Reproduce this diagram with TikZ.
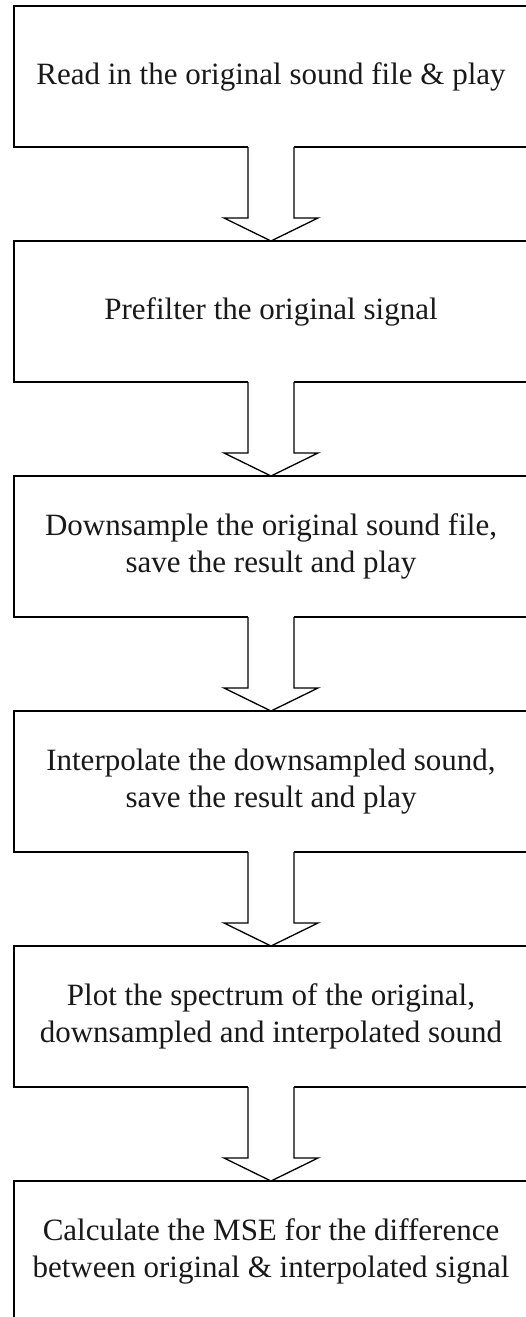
\documentclass[tikz,border=0pt]{standalone}
\usepackage{fontspec}
\setmainfont{Liberation Serif}
\usetikzlibrary{calc}
\begin{document}
\begin{tikzpicture}[x=1pt,y=1pt,
  stepbox/.style={draw=black, line width=1.3pt, fill=white, minimum width=514pt,
    minimum height=141pt, inner sep=0pt, outer sep=0pt, align=center,
    text=black!90, font=\fontsize{31}{37.5}\selectfont},
  flowarrow/.style={draw=black, line width=1.3pt, fill=white, line join=miter}]
\useasboundingbox (0,0) rectangle (526,-1317);
\clip (0,0) rectangle (526,-1317);
\node[stepbox] (b1) at (271,-76.5) {Read in the original sound file \& play};
\node[stepbox] (b2) at (271,-311.5) {Prefilter the original signal};
\node[stepbox] (b3) at (271,-546.5) {Downsample the original sound file,\\save the result and play};
\node[stepbox] (b4) at (271,-781.5) {Interpolate the downsampled sound,\\save the result and play};
\node[stepbox] (b5) at (271,-1016.5) {Plot the spectrum of the original,\\downsampled and interpolated sound};
\node[stepbox] (b6) at (271,-1251.5) {Calculate the MSE for the difference\\between original \& interpolated signal};
\foreach \a/\b in {b1/b2,b2/b3,b3/b4,b4/b5,b5/b6}{
  \fill[white] ($(\a.south)+(-23,1.5)$) rectangle ($(\a.south)+(23,-71)$);
  \draw[flowarrow] ($(\a.south)+(-23,0)$) -- ++(0,-71) -- ++(-24,0) -- (\b.north)
    -- ($(\a.south)+(47,-71)$) -- ++(-24,0) -- ++(0,71);
}
\end{tikzpicture}
\end{document}
